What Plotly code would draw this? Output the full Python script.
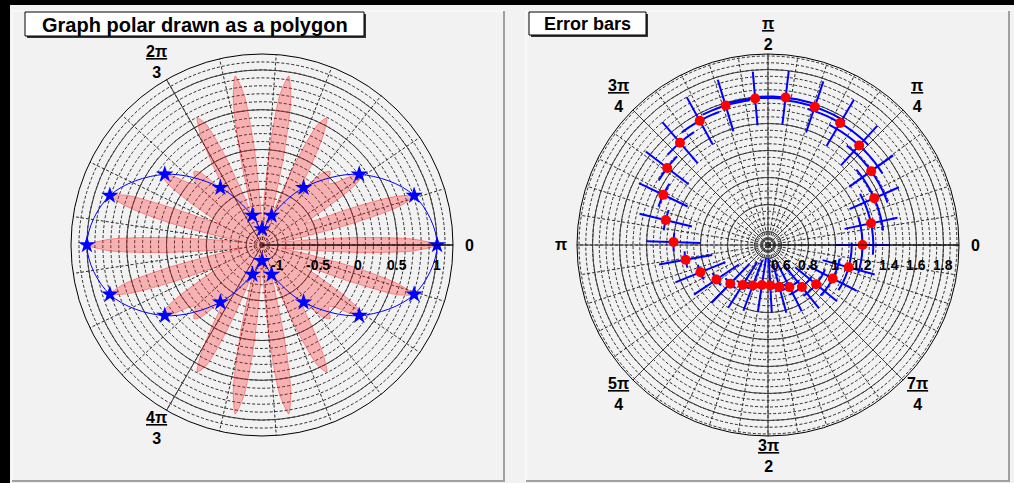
import math
import plotly.graph_objects as go

W, H = 1014, 483

# ---------------- data: left panel (graph polar drawn as a polygon) ----------------
poly_step_deg = 2.25
poly_r = [
    1.00, 0.70, 0, -0.69, -0.95, -0.65, 0, 0.60, 0.81, 0.54, 0, -0.46, -0.59, -0.37, 0, 0.27,
    0.31, 0.17, 0, -0.06, 0, 0.06, 0, -0.17, -0.31, -0.27, 0, 0.37, 0.59, 0.46, 0, -0.54,
    -0.81, -0.60, 0, 0.65, 0.95, 0.69, 0, -0.70, -1.00, -0.70, 0, 0.69, 0.95, 0.65, 0, -0.60,
    -0.81, -0.54, 0, 0.46, 0.59, 0.37, 0, -0.27, -0.31, -0.17, 0, 0.06, 0, -0.06, 0, 0.17,
    0.31, 0.27, 0, -0.37, -0.59, -0.46, 0, 0.60, 0.81, 0.54, 0, -0.65, -0.95, -0.69, 0, 0.70,
    1.00, 0.70, 0, -0.69, -0.95, -0.65, 0, 0.60, 0.81, 0.54, 0, -0.46, -0.59, -0.37, 0, 0.27,
    0.31, 0.17, 0, -0.06, 0, 0.06, 0, -0.17, -0.31, -0.27, 0, 0.37, 0.59, 0.46, 0, -0.54,
    -0.81, -0.60, 0, 0.65, 0.95, 0.69, 0, -0.70, -1.00, -0.70, 0, 0.69, 0.95, 0.65, 0, -0.60,
    -0.81, -0.54, 0, 0.46, 0.59, 0.37, 0, -0.27, -0.31, -0.17, 0, 0.06, 0, -0.06, 0, 0.17,
    0.31, 0.27, 0, -0.37, -0.59, -0.46, 0, 0.60, 0.81, 0.54, 0, -0.65, -0.95, -0.69, 0, 0.70,
]
poly_theta = [i * poly_step_deg for i in range(len(poly_r))]

star_theta = [0, 18, 36, 54, 72, 90, 108, 126, 144, 162,
              180, 198, 216, 234, 252, 270, 288, 306, 324, 342]
star_r = [1.00, 0.81, 0.31, -0.31, -0.81, -1.00, -0.81, -0.31, 0.31, 0.81,
          1.00, 0.81, 0.31, -0.31, -0.81, -1.00, -0.81, -0.31, 0.31, 0.81]

left_rticks = [-1, -0.5, 0, 0.5, 1]
left_rticktext = ["-1", "-0.5", "0", "0.5", "1"]
left_alabels = ["0", "2π/3", "4π/3"]

# ---------------- data: right panel (error bars) ----------------
err_theta = [0, 11.9, 23.8, 35.6, 47.5, 59.4, 71.3, 83.2, 95.0, 106.9,
             118.8, 130.7, 142.6, 154.4, 166.3, 178.2, 190.1, 202.0, 213.8, 225.7,
             237.6, 249.5, 261.4, 273.2, 285.1, 297.0, 308.9, 320.8, 332.6, 344.5]
err_r = [1.20, 1.28, 1.36, 1.44, 1.50, 1.55, 1.58, 1.60, 1.59, 1.58,
         1.55, 1.50, 1.44, 1.36, 1.28, 1.20, 1.12, 1.04, 0.96, 0.90,
         0.85, 0.82, 0.80, 0.80, 0.82, 0.85, 0.90, 0.96, 1.04, 1.12]
err_ex_rad = [0.30, 0.30, 0.29, 0.28, 0.27, 0.25, 0.23, 0.21, 0.19, 0.17,
              0.15, 0.13, 0.12, 0.11, 0.10, 0.10, 0.10, 0.11, 0.12, 0.13,
              0.15, 0.17, 0.19, 0.21, 0.23, 0.25, 0.27, 0.28, 0.29, 0.30]
err_ey = [0.2] * 30

right_rticks = [0.6, 0.8, 1.0, 1.2, 1.4, 1.6, 1.8]
right_rticktext = ["0.6", "0.8", "1", "1.2", "1.4", "1.6", "1.8"]
right_alabels = ["0", "π/4", "π/2", "3π/4", "π", "5π/4", "3π/2", "7π/4"]

# ---------------- geometry / style ----------------
FONT = "Liberation Sans"
R = 191
LC = (262, 245)   # left polar centre (px)
RC = (768, 245)   # right polar centre (px)
L_RANGE = [-1.2, 1.2]
R_RANGE = [0.5, 1.915]


def px(x):
    return x / W


def py(y):
    return 1 - y / H


def dom(c):
    return dict(x=[px(c[0] - R), px(c[0] + R)], y=[py(c[1] + R), py(c[1] - R)])


def frange(a, b, s):
    out = []
    n = int(round((b - a) / s))
    for k in range(n + 1):
        out.append(round(a + k * s, 4))
    return out


left_rminor = frange(-1.1, 1.1, 0.1)
right_rminor = frange(0.55, 1.9, 0.05)
left_amajor = [0, 120, 240]
left_aminor = [k * 120 / 7 for k in range(21)]
right_amajor = [k * 45 for k in range(8)]
right_aminor = [k * 9 for k in range(40)]

DASH = "3px,2px"
MINC = "#2a2a2a"
MAJC = "#3a3a3a"


def minor_polar(c, rng, rvals, avals):
    return dict(
        domain=dom(c), bgcolor="rgba(0,0,0,0)",
        radialaxis=dict(range=rng, tickmode="array", tickvals=rvals, showticklabels=False,
                        ticks="", showgrid=True, gridcolor=MINC, gridwidth=1, griddash=DASH,
                        showline=False),
        angularaxis=dict(tickmode="array", tickvals=avals, showticklabels=False, ticks="",
                         showgrid=True, gridcolor=MINC, gridwidth=1, griddash=DASH,
                         showline=False, rotation=0, direction="counterclockwise",
                         thetaunit="degrees"),
    )


def major_polar(c, rng, rvals, avals):
    return dict(
        domain=dom(c), bgcolor="rgba(0,0,0,0)",
        radialaxis=dict(range=rng, tickmode="array", tickvals=rvals, showticklabels=False,
                        ticks="", showgrid=True, gridcolor=MAJC, gridwidth=1,
                        showline=True, linecolor="black", linewidth=1, angle=0),
        angularaxis=dict(tickmode="array", tickvals=avals, showticklabels=False, ticks="",
                         showgrid=True, gridcolor=MAJC, gridwidth=1,
                         showline=True, linecolor="black", linewidth=1,
                         rotation=0, direction="counterclockwise", thetaunit="degrees"),
    )


fig = go.Figure()

# empty traces so that the minor-grid polar layers get drawn
fig.add_trace(go.Scatterpolar(r=[], theta=[], mode="markers", subplot="polar",
                              showlegend=False, hoverinfo="skip"))
fig.add_trace(go.Scatterpolar(r=[], theta=[], mode="markers", subplot="polar3",
                              showlegend=False, hoverinfo="skip"))

# left panel traces (on polar2 = major grid layer, above minor grid)
fig.add_trace(go.Scatterpolar(
    r=poly_r + [poly_r[0]], theta=poly_theta + [poly_theta[0]], mode="lines",
    fill="toself", fillcolor="rgba(255,30,30,0.30)",
    line=dict(color="rgba(255,0,0,0.6)", width=0.6, shape="spline", smoothing=0.7),
    subplot="polar2", showlegend=False, hoverinfo="skip"))
fig.add_trace(go.Scatterpolar(
    r=star_r + [star_r[0]], theta=star_theta + [star_theta[0]], mode="lines",
    line=dict(color="#0000ff", width=1, shape="spline"),
    subplot="polar2", showlegend=False, hoverinfo="skip"))
fig.add_trace(go.Scatterpolar(
    r=star_r, theta=star_theta, mode="markers",
    marker=dict(symbol="star", size=13, color="#0000ff", line=dict(width=0)),
    subplot="polar2", showlegend=False))

# right panel error bars
rad_t, rad_r = [], []
arc_t, arc_r = [], []
for t, r, ex, ey in zip(err_theta, err_r, err_ex_rad, err_ey):
    rad_t += [t, t, None]
    rad_r += [r - ey, r + ey, None]
    exd = math.degrees(ex)
    n = 10
    for k in range(n + 1):
        arc_t.append(t - exd + 2 * exd * k / n)
        arc_r.append(r)
    arc_t.append(None)
    arc_r.append(None)

fig.add_trace(go.Scatterpolar(
    r=rad_r, theta=rad_t, mode="lines", line=dict(color="#0000ff", width=2),
    subplot="polar4", showlegend=False, hoverinfo="skip"))
fig.add_trace(go.Scatterpolar(
    r=arc_r, theta=arc_t, mode="lines", line=dict(color="#0000ff", width=2),
    subplot="polar4", showlegend=False, hoverinfo="skip"))
fig.add_trace(go.Scatterpolar(
    r=err_r, theta=err_theta, mode="markers",
    marker=dict(symbol="circle", size=10, color="#ff0000", line=dict(width=0)),
    subplot="polar4", showlegend=False))

# ---------------- background shapes ----------------
shapes = []
shapes.append(dict(type="rect", xref="paper", yref="paper", x0=px(10), x1=px(W),
                   y0=py(H), y1=py(5), fillcolor="#f2f2f2", line=dict(width=0), layer="below"))
for x0, x1 in [(12, 505), (526, 1010)]:
    y0, y1 = 11, 482
    shapes.append(dict(type="rect", xref="paper", yref="paper", x0=px(x0), x1=px(x1),
                       y0=py(y1), y1=py(y0), fillcolor="#f2f2f2", line=dict(width=0),
                       layer="below"))
    shapes.append(dict(type="line", xref="paper", yref="paper", x0=px(x0), x1=px(x1),
                       y0=py(y0), y1=py(y0), line=dict(color="white", width=1), layer="below"))
    shapes.append(dict(type="line", xref="paper", yref="paper", x0=px(x0), x1=px(x0),
                       y0=py(y0), y1=py(y1), line=dict(color="white", width=1), layer="below"))
    shapes.append(dict(type="line", xref="paper", yref="paper", x0=px(x1 - 1), x1=px(x1 - 1),
                       y0=py(y0), y1=py(y1), line=dict(color="#a0a0a0", width=2), layer="below"))
    shapes.append(dict(type="line", xref="paper", yref="paper", x0=px(x0), x1=px(x1),
                       y0=py(y1 - 1), y1=py(y1 - 1), line=dict(color="#a0a0a0", width=2),
                       layer="below"))

annotations = []
titles = [("Graph polar drawn as a polygon", 25, 364, 12, 36, 20),
          ("Error bars", 529, 646, 12, 35, 18)]
for text, x0, x1, y0, y1, fs in titles:
    shapes.append(dict(type="rect", xref="paper", yref="paper", x0=px(x0 + 2), x1=px(x1 + 2),
                       y0=py(y1 + 2), y1=py(y0 + 2), fillcolor="#333333", line=dict(width=0),
                       layer="above"))
    shapes.append(dict(type="rect", xref="paper", yref="paper", x0=px(x0), x1=px(x1),
                       y0=py(y1), y1=py(y0), fillcolor="white",
                       line=dict(color="black", width=1), layer="above"))
    annotations.append(dict(text="<b>%s</b>" % text, xref="paper", yref="paper",
                            x=px((x0 + x1) / 2), y=py((y0 + y1) / 2 + 0.5),
                            xanchor="center", yanchor="middle", showarrow=False,
                            font=dict(family=FONT, size=fs, color="black")))


def angle_label(lbl, ang_deg, c):
    if "/" in lbl:
        num, den = lbl.split("/")
        txt = "<b><u>%s</u></b><br><b>%s</b>" % (num, den)
        d = 211
    else:
        txt = "<b>%s</b>" % lbl
        d = 207
    a = math.radians(ang_deg)
    x = c[0] + d * math.cos(a)
    y = c[1] - d * math.sin(a)
    return dict(text=txt, xref="paper", yref="paper", x=px(x), y=py(y),
                xanchor="center", yanchor="middle", showarrow=False,
                font=dict(family=FONT, size=16, color="black"))


def radial_label(lbl, val, c, rng):
    rho = (val - rng[0]) / (rng[1] - rng[0]) * R
    return dict(text="<b>%s</b>" % lbl, xref="paper", yref="paper",
                x=px(c[0] + rho), y=py(c[1] + 20),
                xanchor="center", yanchor="middle", showarrow=False,
                font=dict(family=FONT, size=14, color="black"))


for lbl, a in zip(left_alabels, left_amajor):
    annotations.append(angle_label(lbl, a, LC))
for lbl, a in zip(right_alabels, right_amajor):
    annotations.append(angle_label(lbl, a, RC))
for lbl, v in zip(left_rticktext, left_rticks):
    annotations.append(radial_label(lbl, v, LC, L_RANGE))
for lbl, v in zip(right_rticktext, right_rticks):
    annotations.append(radial_label(lbl, v, RC, R_RANGE))

fig.update_layout(
    width=W, height=H, autosize=False,
    margin=dict(l=0, r=0, t=0, b=0, pad=0),
    paper_bgcolor="#000000", plot_bgcolor="rgba(0,0,0,0)",
    showlegend=False,
    polar=minor_polar(LC, L_RANGE, left_rminor, left_aminor),
    polar2=major_polar(LC, L_RANGE, left_rticks, left_amajor),
    polar3=minor_polar(RC, R_RANGE, right_rminor, right_aminor),
    polar4=major_polar(RC, R_RANGE, right_rticks, right_amajor),
    shapes=shapes, annotations=annotations,
)

fig.write_html("out.html", config={"displayModeBar": False},
               post_script="document.body.style.margin='0px';document.body.style.overflow='hidden';")
